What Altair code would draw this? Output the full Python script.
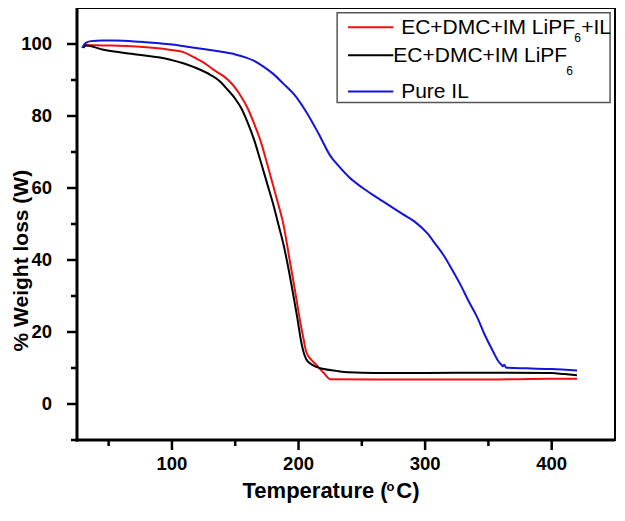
import altair as alt
import pandas as pd

# ── Data ──────────────────────────────────────────────────────────────────────
series_names = ["EC+DMC+IM LiPF6+IL", "EC+DMC+IM LiPF6", "Pure IL"]
series_colors = ["#ee1111", "#000000", "#1414d8"]

red_temp = [30, 32, 45, 72, 98, 110, 118, 126, 134, 141, 147, 153, 160, 165, 170,
            175, 180, 184, 188, 193, 197, 201, 204, 206, 210, 214, 220, 225, 260,
            300, 350, 400, 420]
red_weight = [99.0, 99.7, 99.6, 99.3, 98.4, 97.6, 96.2, 94.6, 92.6, 91.0, 89.1,
              86.3, 82.0, 77.8, 73.1, 67.0, 60.6, 55.5, 50.0, 40.0, 32.0, 23.5,
              18.0, 14.6, 12.3, 10.9, 8.6, 6.9, 6.8, 6.8, 6.8, 7.0, 7.0]

black_temp = [30, 32, 46, 72, 98, 118, 131, 138, 144, 150, 155, 160, 165, 170, 175,
              180, 184, 188, 191, 195, 199, 202, 204, 206, 209, 214, 219, 230, 240,
              260, 300, 350, 400, 410, 420]
black_weight = [99.0, 99.6, 98.4, 97.1, 95.7, 93.5, 91.3, 89.6, 87.3, 84.8, 82.0,
                78.0, 73.3, 67.5, 61.5, 55.5, 50.0, 44.5, 39.5, 32.0, 24.0, 17.5,
                14.4, 12.5, 11.3, 10.3, 9.8, 9.2, 8.8, 8.6, 8.6, 8.7, 8.6, 8.3, 8.0]

blue_temp = [29, 32, 36, 45, 55, 75, 98, 115, 129, 140, 150, 158, 165, 172, 180,
             188, 196, 206, 216, 225, 232, 240, 250, 260, 271, 282, 292, 302, 308,
             315, 321, 328, 334, 341, 347, 354, 358, 360, 361.5, 362.5, 364, 380,
             400, 420]
blue_weight = [98.9, 100.3, 100.8, 101.0, 101.0, 100.6, 99.9, 99.1, 98.4, 97.8,
               97.1, 96.3, 95.3, 93.8, 91.7, 89.0, 86.2, 81.2, 75.0, 69.0, 66.0,
               63.0, 60.2, 57.8, 55.3, 52.8, 50.6, 47.3, 44.5, 41.1, 37.5, 33.1,
               28.8, 24.2, 19.3, 14.4, 11.8, 11.0, 10.5, 10.9, 10.1, 9.9, 9.7, 9.3]

x_major = [100, 200, 300, 400]
x_minor = [50, 150, 250, 350]
y_major = [0, 20, 40, 60, 80, 100]
y_minor = [-10, 10, 30, 50, 70, 90]

frames = []
for name, temps, weights in [
    (series_names[0], red_temp, red_weight),
    (series_names[1], black_temp, black_weight),
    (series_names[2], blue_temp, blue_weight),
]:
    frames.append(pd.DataFrame({"temp": temps, "weight": weights, "series": name,
                                "order": range(len(temps))}))
df = pd.concat(frames, ignore_index=True)

# ── Layout ────────────────────────────────────────────────────────────────────
W, H = 538, 432
FONT = "Liberation Sans"
XS = W / 546  # horizontal scale vs. reference


def px(xr):
    return (xr - 77) * XS


def py(yr):
    return (yr - 2) * H / 448


one = pd.DataFrame({"a": [0]})
x_scale = alt.Scale(domain=[25, 450], nice=False, zero=False)
y_scale = alt.Scale(domain=[-10, 110], nice=False, zero=False)

lines = alt.Chart(df).mark_line(strokeWidth=2, interpolate="monotone").encode(
    x=alt.X("temp:Q", scale=x_scale, axis=None),
    y=alt.Y("weight:Q", scale=y_scale, axis=None),
    color=alt.Color("series:N", scale=alt.Scale(domain=series_names, range=series_colors), legend=None),
    detail="series:N",
    order="order:Q",
)

# ── Axes drawn by hand (domain lines, ticks, tick labels through the scales) ─
domain_lines = [
    alt.Chart(one).mark_rule(color="black", strokeWidth=3).encode(
        x=alt.value(0), y=alt.value(0), y2=alt.value(H + 1.5)),
    alt.Chart(one).mark_rule(color="black", strokeWidth=3).encode(
        x=alt.value(-1.5), x2=alt.value(W), y=alt.value(H)),
]


def x_ticks(vals, length):
    return alt.Chart(pd.DataFrame({"t": vals})).mark_rule(color="black", strokeWidth=2.5).encode(
        x=alt.X("t:Q", scale=x_scale, axis=None), y=alt.value(H), y2=alt.value(H + length),
    )


def y_ticks(vals, length):
    return alt.Chart(pd.DataFrame({"w": vals})).mark_rule(color="black", strokeWidth=2.5).encode(
        y=alt.Y("w:Q", scale=y_scale, axis=None), x=alt.value(-length), x2=alt.value(0),
    )


tick_layers = [x_ticks(x_major, 10), x_ticks(x_minor, 6),
               y_ticks(y_major, 10), y_ticks(y_minor, 6)]

x_labels = alt.Chart(pd.DataFrame({"t": x_major})).mark_text(
    font=FONT, fontSize=18.5, fontWeight="bold", color="black", align="center", baseline="top",
).encode(x=alt.X("t:Q", scale=x_scale, axis=None), y=alt.value(H + 15), text=alt.Text("t:Q"))

y_labels = alt.Chart(pd.DataFrame({"w": y_major})).mark_text(
    font=FONT, fontSize=18.5, fontWeight="bold", color="black", align="right", baseline="middle",
).encode(y=alt.Y("w:Q", scale=y_scale, axis=None), x=alt.value(-25), text=alt.Text("w:Q"))


def label(text, x, y, size=21, weight="normal", align="left", baseline="middle", angle=0):
    return alt.Chart(one).mark_text(
        text=text, font=FONT, fontSize=size, fontWeight=weight, align=align,
        baseline=baseline, angle=angle, color="black",
    ).encode(x=alt.value(x), y=alt.value(y))


# axis titles (with superscript)
tb = H + 58
x_title = [
    label("Temperature (", px(245), tb, size=22, weight="bold", baseline="alphabetic"),
    label("o", px(391), tb - 7, size=13, weight="bold", baseline="alphabetic"),
    label("C)", px(401), tb, size=22, weight="bold", baseline="alphabetic"),
]
y_title = [label("% Weight loss (W)", px(21), py(264), size=21, weight="bold",
                 align="center", baseline="middle", angle=270)]

# legend box
legend_box = alt.Chart(one).mark_rect(fill="white", stroke="#555555", strokeWidth=1.5).encode(
    x=alt.value(px(341)), x2=alt.value(px(618)), y=alt.value(py(7)), y2=alt.value(py(100)),
)
legend_parts = [legend_box]
row_y = [22, 51, 88.5]
text_x = [px(406), px(398), px(406)]
for i, (name, color) in enumerate(zip(series_names, series_colors)):
    legend_parts.append(
        alt.Chart(one).mark_rule(color=color, strokeWidth=2).encode(
            x=alt.value(px(352)), x2=alt.value(px(398)),
            y=alt.value(py(row_y[i])), y2=alt.value(py(row_y[i])),
        )
    )
main_w = 172
legend_parts += [
    label("EC+DMC+IM LiPF", text_x[0], py(row_y[0]) + 1),
    label("6", text_x[0] + main_w + 1, py(33), size=12),
    label("+IL", text_x[0] + main_w + 8, py(row_y[0]) + 1),
    label("EC+DMC+IM LiPF", text_x[1], py(row_y[1]) + 1),
    label("6", text_x[1] + main_w + 1, py(67), size=12),
    label("Pure IL", text_x[2], py(row_y[2]) + 1),
]

chart = alt.layer(
    lines, *domain_lines, *tick_layers, x_labels, y_labels,
    *x_title, *y_title, *legend_parts,
).properties(
    width=W, height=H,
    autosize=alt.AutoSizeParams(type="none"),
    padding={"left": 69, "top": 0, "right": 2, "bottom": 64},
).configure_view(
    stroke="black", strokeWidth=2,
)

chart.save("out.html", embed_options={"renderer": "svg", "actions": False})
